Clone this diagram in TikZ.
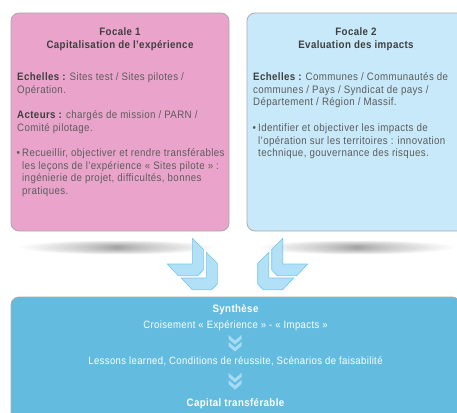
\documentclass[tikz,border=0pt]{standalone}
\usepackage{fontspec}
\setmainfont{Liberation Sans}[FakeStretch=0.9, LetterSpace=3.5]
\definecolor{pinkfill}{HTML}{EAA4CB}
\definecolor{lbfill}{HTML}{C7E9F9}
\definecolor{bfill}{HTML}{63BCE0}
\definecolor{boxline}{HTML}{ABABAB}
\definecolor{txt}{HTML}{5C5C5C}
\definecolor{txtb}{HTML}{3F3F3F}
\definecolor{chevfill}{HTML}{B2E0F6}
\definecolor{chevline}{HTML}{6FC8EF}
\definecolor{smallchev}{HTML}{A6DBF3}
\tikzset{
  panel/.style={draw=boxline, line width=0.8pt, rounded corners=8pt, inner sep=0pt, minimum width=218pt, minimum height=218pt},
  bodytext/.style={inner sep=0pt, align=left, text=txt, font=\fontsize{10.8}{12.6}\selectfont},
  headtext/.style={inner sep=0pt, align=center, text=txtb, font=\fontsize{10.8}{12.6}\selectfont\bfseries},
  whitetext/.style={inner sep=0pt, align=center, text=white, font=\fontsize{10.6}{12.6}\selectfont},
  whitebold/.style={whitetext, font=\fontsize{10.8}{12.6}\selectfont\bfseries},
  bigchev/.style={fill=chevfill, draw=chevline, line width=0.6pt},
  smallchevron/.style={fill=smallchev},
  shadowlayer/.style={fill=black, opacity=0.02}
}
\newcommand{\lbl}[1]{{\color{txtb}\bfseries #1}}
\begin{document}
\begin{tikzpicture}[x=1pt,y=-1pt]
\useasboundingbox (0,0) rectangle (457,412);
\clip (0,0) rectangle (457,412);
% soft shadows under the two panels
\foreach \k in {1,...,24}{
  \pgfmathsetmacro{\rx}{96*(\k/24)^1.7}
  \pgfmathsetmacro{\ry}{7*(\k/24)^0.9}
  \fill[shadowlayer] (117,247.5) ellipse ({\rx} and {\ry});
  \fill[shadowlayer] (357,247.5) ellipse ({\rx} and {\ry});
}
% panels
\node[panel, fill=pinkfill] (f1) at (120,122) {};
\node[panel, fill=lbfill] (f2) at (356,122) {};
\node[panel, fill=bfill, minimum width=449pt, minimum height=123pt] (syn) at (235.5,358.5) {};
% Focale 1 text
\node[headtext, anchor=base] (h1) at (120,48.5) {Focale 1\\Capitalisation de l’expérience};
\node[bodytext, anchor=base west] (e1) at (17,93) {\lbl{Echelles :} Sites test / Sites pilotes /\\Opération.};
\node[bodytext, anchor=base west] (a1) at (17,131) {\lbl{Acteurs :} chargés de mission / PARN /\\Comité pilotage.};
\node[bodytext, anchor=base west] (b1) at (16.5,156.5) {•};
\node[bodytext, anchor=base west] (r1) at (22,194.3) {Recueillir, objectiver et rendre transférables\\les leçons de l’expérience « Sites pilote » :\\ingénierie de projet, difficultés, bonnes\\pratiques.};
% Focale 2 text
\node[headtext, anchor=base] (h2) at (356,48.5) {Focale 2\\Evaluation des impacts};
\node[bodytext, anchor=base west] (e2) at (253,105.7) {\lbl{Echelles :} Communes / Communautés de\\communes / Pays / Syndicat de pays /\\Département / Région / Massif.};
\node[bodytext, anchor=base west] (b2) at (252.5,131.5) {•};
\node[bodytext, anchor=base west] (r2) at (258,156.7) {Identifier et objectiver les impacts de\\l’opération sur les territoires : innovation\\technique, gouvernance des risques.};
% converging double arrows
\draw[bigchev] (192.3,238.3) -- (203.3,249.3) -- (203.3,270) -- (197.7,275.7) -- (178.3,275.7) -- (167.3,264) -- (192.3,264) -- cycle;
\draw[bigchev] (206.3,252.3) -- (217.3,263.3) -- (217.3,284) -- (211.7,289.7) -- (192.3,289.7) -- (181.3,278) -- (206.3,278) -- cycle;
\draw[bigchev] (282.7,238.3) -- (271.7,249.3) -- (271.7,270) -- (277.3,275.7) -- (296.7,275.7) -- (307.7,264) -- (282.7,264) -- cycle;
\draw[bigchev] (268.7,252.3) -- (257.7,263.3) -- (257.7,284) -- (263.3,289.7) -- (282.7,289.7) -- (293.7,278) -- (268.7,278) -- cycle;
% synthesis text
\node[whitebold, anchor=base] (s1) at (235.5,312.5) {Synthèse};
\node[whitetext, anchor=base] (s2) at (235.5,328) {Croisement « Expérience » - « Impacts »};
\node[whitetext, anchor=base] (s3) at (235.5,364) {Lessons learned, Conditions de réussite, Scénarios de faisabilité};
\node[whitebold, anchor=base] (s4) at (235.5,406.5) {Capital transférable};
% small double chevrons
\foreach \y in {335,342,373,380}{
  \fill[smallchevron] (228.5,\y) -- (235,\y+5.5) -- (241.5,\y) -- (241.5,\y+4) -- (235,\y+9.5) -- (228.5,\y+4) -- cycle;
}
\end{tikzpicture}
\end{document}
